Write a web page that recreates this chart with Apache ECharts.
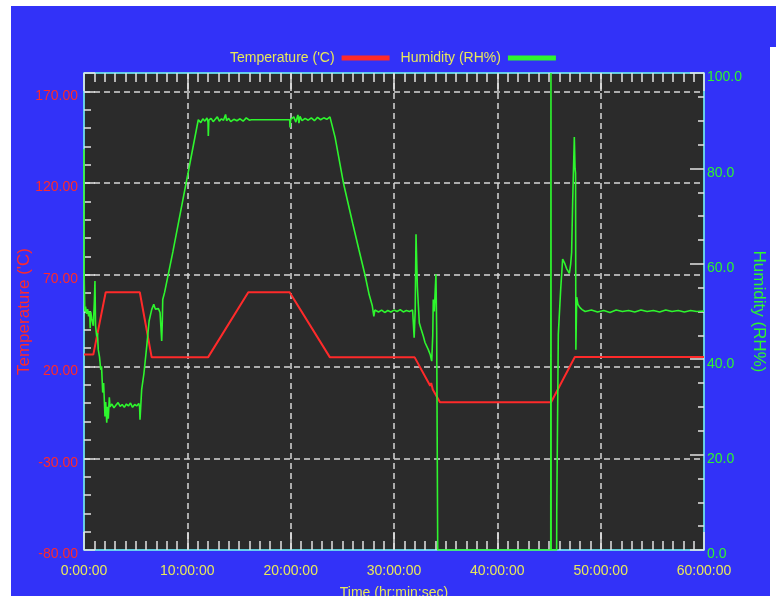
<!DOCTYPE html>
<html><head><meta charset="utf-8">
<script src="https://cdn.jsdelivr.net/npm/echarts@6/dist/echarts.min.js"></script>
<style>
html,body{margin:0;padding:0;background:#fff;overflow:hidden;}
#bg{position:absolute;left:11px;top:6px;width:765px;height:590px;background:#3232f8;}
#notch{position:absolute;left:770px;top:47px;width:6px;height:549px;background:#fff;}
#chart{position:absolute;left:0;top:0;width:776px;height:596px;}
</style></head><body>
<div id="bg"></div><div id="notch"></div><div id="chart"></div>
<script>
// ---- data (time in hours) ----
const timeTicks = [0, 10, 20, 30, 40, 50, 60];
const tempTicks = [-80, -30, 20, 70, 120, 170];
const humTicks = [0, 20, 40, 60, 80, 100];

const tempTime = [0, 0.9, 2.1, 5.4, 6.55, 12.0, 15.9, 19.9, 23.8, 32.0, 33.5, 33.6, 33.75, 34.45, 45.2, 47.5, 60];
const tempVals = [26.5, 26.5, 60.5, 60.5, 25, 25, 60.5, 60.5, 25, 25, 9.5, 11, 7.5, 0.5, 0.5, 25.2, 25.2];

const humTime = [
  0,0.02,0.08,0.15,0.25,0.35,0.45,0.55,0.6,0.65,
  0.75,0.9,1.0,1.06,1.12,1.23,1.3,1.38,1.5,1.62,
  1.7,1.81,1.9,2.03,2.1,2.2,2.28,2.35,2.45,2.52,
  2.7,2.9,3.1,3.3,3.5,3.7,3.9,4.1,4.3,4.5,
  4.7,4.9,5.1,5.3,5.38,5.42,5.58,5.8,6.07,6.3,
  6.55,6.75,6.9,7.04,7.2,7.36,7.45,7.52,7.58,7.62,
  7.8,8.6,9.4,10.2,11.06,11.3,11.5,11.7,11.9,12.0,
  12.03,12.08,12.3,12.5,12.7,12.9,13.1,13.3,13.5,13.7,
  13.8,14.0,14.2,14.5,14.8,15.1,15.4,15.7,16.0,16.2,
  19.9,19.94,20.0,20.3,20.5,20.7,20.8,20.9,21.1,21.4,
  21.7,22.0,22.3,22.6,22.9,23.2,23.5,23.8,23.97,24.3,
  25.1,26.0,26.6,27.2,27.6,27.9,28.05,28.15,28.5,28.8,
  29.1,29.4,29.7,30.0,30.3,30.6,30.9,31.2,31.5,31.8,
  31.94,31.95,32.05,32.13,32.26,32.45,32.6,32.84,33.0,33.32,
  33.5,33.65,33.75,33.8,33.9,34.0,34.06,34.13,34.23,45.17,
  45.19,45.21,45.74,45.75,45.88,45.9,46.13,46.32,46.5,46.7,
  46.97,47.1,47.19,47.29,47.45,47.52,47.57,47.6,47.68,47.8,
  48.0,48.2,48.5,49.1,49.7,50.3,50.9,51.5,52.1,52.7,
  53.3,53.9,54.5,55.1,55.7,56.3,56.9,57.5,58.1,58.7,
  59.3,60
];
const humVals = [
  84,57,50,51,49.5,50.5,49,50,46.5,50,
  48.5,47,52,56.4,47,44.8,45.5,42,40.5,37.8,
  38.5,33,35,28,31,26.7,30,27.5,32,30,
  30.6,29.8,30.4,30.9,30.1,30.5,29.9,30.6,30.2,30.8,
  29.9,30.5,30.2,30.7,30,27.3,33.6,37,42.7,48,
  50.4,51.5,50.5,50.2,50.6,49.8,49.5,43.8,48,52.5,
  54,62.5,71.5,80.5,90.2,89.6,90.4,89.9,90.6,89.7,
  86.8,90.1,90.5,89.8,90.3,90.8,89.9,90.4,90.1,91.3,
  90.0,90.5,89.8,90.3,90.0,90.4,89.9,90.6,90.1,90.2,
  90.2,88.6,90.3,90.8,89.7,91.2,89.5,90.9,90.0,90.5,
  90.1,90.6,90.0,90.7,90.2,90.6,90.3,90.8,90.4,86.5,
  77,68.5,63,57.6,53.5,51.2,49,50.3,49.9,50.3,
  49.8,50.2,49.9,50.3,50.0,50.4,49.9,50.2,50.0,50.3,
  50,44.5,50,66.2,55.3,47.6,46.5,44.8,43.5,42,
  41,39.6,45,52.5,50,55,57.8,46,0,0,
  100,0,0,7.8,8,45.2,54.6,61,60.2,59,
  58,60,62.4,72.9,86.6,80,79,42,53,51.5,
  50.8,50.4,50,50.3,49.9,50.2,49.8,50.3,50.0,50.2,
  49.9,50.3,50.0,50.2,49.9,50.3,50.0,50.2,49.9,50.2,
  50.0,50.1
];

const tempName = "Temperature ('C)";
const humName = "Humidity (RH%)";

// ---- chart ----
const FONT = "'Liberation Sans',Arial,sans-serif";
const AXC = '#6fe3ef', TICKC = '#e4e4e4', GRIDC = '#d8d8d8';
const RED = '#ff2a2a', GREEN = '#2ef52e', YEL = '#e8e85a';

const zip = (a, b) => a.map((t, i) => [t, b[i]]);

const baseX = {
  type: 'value', min: timeTicks[0], max: timeTicks[timeTicks.length - 1],
  interval: timeTicks[1] - timeTicks[0],
  axisLine: { show: true, onZero: false, lineStyle: { color: AXC, width: 1.5 } },
  axisTick: { show: true, inside: true, length: 18, lineStyle: { color: TICKC, width: 1.5 } },
  minorTick: { show: true, splitNumber: 10, length: 9, lineStyle: { color: TICKC, width: 1.5 } }
};

const chart = echarts.init(document.getElementById('chart'), null, { renderer: 'canvas' });
chart.setOption({
  animation: false,
  backgroundColor: 'transparent',
  grid: { left: 84, right: 72, top: 73, bottom: 46, outerBoundsMode: 'none', containLabel: false,
          show: true, backgroundColor: '#2b2b2b', borderColor: AXC, borderWidth: 1 },
  legend: {
    top: 46, left: 225, align: 'right', icon: 'rect', itemWidth: 48, itemHeight: 5, itemGap: 11,
    data: [tempName, humName],
    textStyle: { color: YEL, fontSize: 14, fontFamily: FONT, padding: [0, 2, 0, 0] }
  },
  xAxis: [
    Object.assign({}, baseX, {
      position: 'bottom',
      splitLine: { show: true, showMinLine: false, showMaxLine: false, lineStyle: { color: GRIDC, type: [6, 4], width: 1.5 } },
      axisLabel: { color: YEL, fontSize: 14, fontFamily: FONT, margin: 14, formatter: v => v + ':00:00' },
      name: 'Time (hr:min:sec)', nameLocation: 'middle', nameGap: 36, nameMoveOverlap: false,
      nameTextStyle: { color: YEL, fontSize: 14, fontFamily: FONT }
    }),
    Object.assign({}, baseX, {
      position: 'top', axisLabel: { show: false }, splitLine: { show: false }
    })
  ],
  yAxis: [
    {
      type: 'value', position: 'left', min: tempTicks[0], max: 180, interval: tempTicks[1] - tempTicks[0],
      axisLine: { show: true, onZero: false, lineStyle: { color: AXC, width: 1.5 } },
      axisTick: { show: true, inside: true, length: 11, lineStyle: { color: TICKC, width: 1.5 } },
      minorTick: { show: true, splitNumber: 5, length: 7, lineStyle: { color: TICKC, width: 1.5 } },
      splitLine: { show: true, showMinLine: false, showMaxLine: false, lineStyle: { color: GRIDC, type: [6, 4], width: 1.5 } },
      axisLabel: { color: RED, fontSize: 14, fontFamily: FONT, margin: 6, showMaxLabel: false,
                   verticalAlign: 'top', lineHeight: 9, formatter: v => v.toFixed(2) },
      name: tempName, nameLocation: 'middle', nameGap: 51, nameMoveOverlap: false,
      nameTextStyle: { color: RED, fontSize: 17, fontFamily: FONT }
    },
    {
      type: 'value', position: 'right', min: humTicks[0], max: humTicks[humTicks.length - 1], interval: humTicks[1] - humTicks[0],
      axisLine: { show: true, onZero: false, lineStyle: { color: AXC, width: 1.5 } },
      axisTick: { show: true, inside: true, length: 14, lineStyle: { color: TICKC, width: 1.5 } },
      minorTick: { show: true, splitNumber: 4, length: 6, lineStyle: { color: TICKC, width: 1.5 } },
      splitLine: { show: false },
      axisLabel: { color: GREEN, fontSize: 14, fontFamily: FONT, margin: 3,
                   verticalAlign: 'top', lineHeight: 9, formatter: v => v.toFixed(1) },
      name: humName, nameLocation: 'middle', nameGap: 46, nameRotate: -90, nameMoveOverlap: false,
      nameTextStyle: { color: GREEN, fontSize: 17, fontFamily: FONT }
    }
  ],
  series: [
    {
      name: tempName, type: 'line', xAxisIndex: 0, yAxisIndex: 0, showSymbol: false,
      color: RED, lineStyle: { color: RED, width: 2 },
      data: zip(tempTime, tempVals)
    },
    {
      name: humName, type: 'line', xAxisIndex: 0, yAxisIndex: 1, showSymbol: false,
      color: GREEN, lineStyle: { color: GREEN, width: 1.6 },
      data: zip(humTime, humVals)
    }
  ]
});
</script>
</body></html>
